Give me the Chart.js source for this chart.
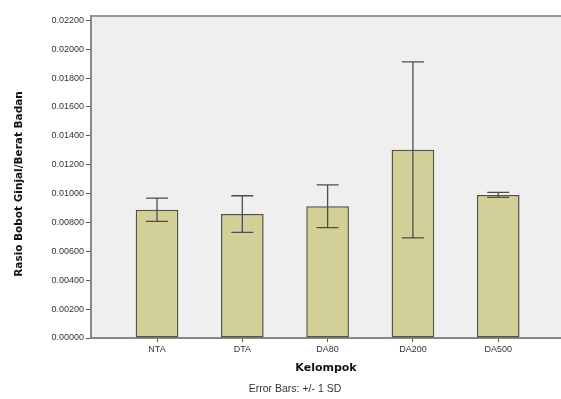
<!DOCTYPE html>
<html>
<head>
<meta charset="utf-8">
<script src="https://cdn.jsdelivr.net/npm/chart.js@4/dist/chart.umd.min.js"></script>
<style>
  body { margin: 0; background: #fff; }
  #wrap { width: 561px; height: 399px; position: relative; }
</style>
</head>
<body>
<div id="wrap"><canvas id="chart"></canvas></div>
<script>
// values
const GROUPS = ['NTA', 'DTA', 'DA80', 'DA200', 'DA500'];
const MEANS = [0.00888, 0.00858, 0.00913, 0.01303, 0.00991];
const SDS = [0.00081, 0.00127, 0.00148, 0.00609, 0.00017];
const Y_TICKS = [0, 0.002, 0.004, 0.006, 0.008, 0.010, 0.012, 0.014, 0.016, 0.018, 0.020, 0.022];

const TICK_FONT = {family: '"Liberation Sans", Arial, sans-serif', size: 9};

// grey plot background plus top frame line
const plotBackground = {
    id: 'plotBackground',
    beforeDraw(chart) {
        const {ctx, chartArea: a} = chart;
        ctx.save();
        ctx.fillStyle = '#efefef';
        ctx.fillRect(a.left, a.top, a.right - a.left, a.bottom - a.top);
        ctx.strokeStyle = '#999';
        ctx.lineWidth = 2;
        ctx.beginPath();
        ctx.moveTo(a.left, a.top);
        ctx.lineTo(a.right, a.top);
        ctx.stroke();
        ctx.restore();
    }
};

// +/- 1 SD whiskers on every bar, y title and footnote
const errorBars = {
    id: 'errorBars',
    afterDatasetsDraw(chart) {
        const {ctx} = chart;
        const y = chart.scales.y;
        const meta = chart.getDatasetMeta(0);
        ctx.save();
        ctx.strokeStyle = '#4d4d4d';
        ctx.lineWidth = 1.3;
        meta.data.forEach((bar, k) => {
            const top = y.getPixelForValue(MEANS[k] + SDS[k]);
            const bot = y.getPixelForValue(MEANS[k] - SDS[k]);
            const half = 11;
            ctx.beginPath();
            ctx.moveTo(bar.x, top); ctx.lineTo(bar.x, bot);
            ctx.moveTo(bar.x - half, top); ctx.lineTo(bar.x + half, top);
            ctx.moveTo(bar.x - half, bot); ctx.lineTo(bar.x + half, bot);
            ctx.stroke();
        });
        ctx.restore();
    },
    afterDraw(chart) {
        const {ctx} = chart;
        ctx.save();
        ctx.fillStyle = '#333';
        ctx.font = '10.5px "Liberation Sans", Arial, sans-serif';
        ctx.textAlign = 'center';
        ctx.textBaseline = 'middle';
        ctx.fillText('Error Bars: +/- 1 SD', 295, 389);
        ctx.fillStyle = '#111';
        ctx.font = 'bold 10.5px "DejaVu Sans", Verdana, sans-serif';
        ctx.translate(19, 184);
        ctx.rotate(-Math.PI / 2);
        ctx.fillText('Rasio Bobot Ginjal/Berat Badan', 0, 0);
        ctx.restore();
    }
};

const config = {
    type: 'bar',
    data: {
        datasets: [{
            data: MEANS.map((m, k) => ({x: k + 1, y: m})),
            backgroundColor: '#d3cf98',
            borderColor: '#55543f',
            borderWidth: 1.5,
            borderSkipped: false,
            barPercentage: 0.5,
            categoryPercentage: 1,
        }],
    },
    options: {
        responsive: true,
        maintainAspectRatio: false,
        animation: false,
        layout: {padding: {top: 16, left: 0, right: 0, bottom: 0}},
        plugins: {
            legend: {display: false},
            tooltip: {enabled: false},
        },
    },
    plugins: [plotBackground, errorBars],
};

config.options.scales = {
    x: {
        type: 'linear',
        offset: false,
        min: 0.226,
        max: 5.736,
        afterFit: (s) => { s.height = 61; },
        afterBuildTicks: (axis) => { axis.ticks = GROUPS.map((g, i) => ({value: i + 1})); },
        ticks: {
            font: TICK_FONT,
            color: '#333',
            padding: 2,
            maxRotation: 0,
            callback: (v) => GROUPS[v - 1],
        },
        grid: {offset: false, drawOnChartArea: false, tickLength: 4, tickColor: '#555'},
        border: {display: true, color: '#888', width: 2},
        title: {
            display: true,
            text: 'Kelompok',
            color: '#111',
            font: {family: '"DejaVu Sans", Verdana, sans-serif', size: 11, weight: 'bold'},
            padding: {top: 0, bottom: 24},
        },
    },
    y: {
        min: 0,
        max: 0.0223,
        afterFit: (s) => { s.width = 91; },
        afterBuildTicks: (axis) => { axis.ticks = Y_TICKS.map((v) => ({value: v})); },
        ticks: {
            font: TICK_FONT,
            color: '#333',
            padding: 2,
            callback: (v) => v.toFixed(5),
        },
        grid: {drawOnChartArea: false, tickLength: 5, tickColor: '#555'},
        border: {display: true, color: '#888', width: 2},
    },
};

window.addEventListener('DOMContentLoaded', () => {
    new Chart('chart', config);
});
</script>
</body>
</html>
